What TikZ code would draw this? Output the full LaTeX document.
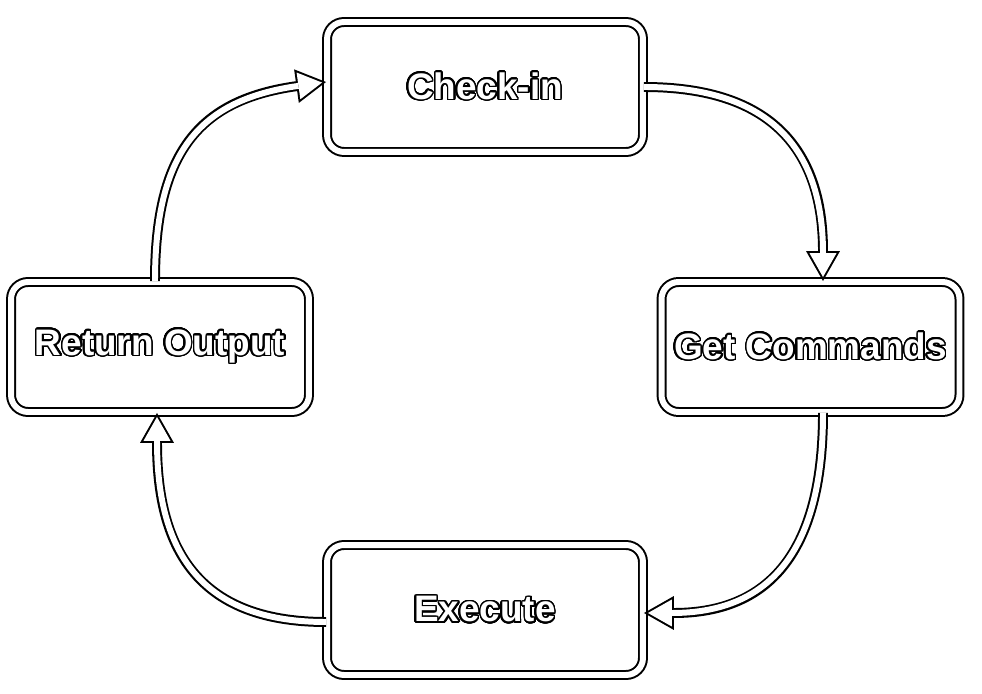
\documentclass[tikz,border=0pt]{standalone}
\usepackage{fontspec}
\setmainfont{Liberation Sans}
\usepackage{contour}
\contourlength{0.9pt}
\contournumber{32}
\usetikzlibrary{arrows.meta}

\begin{document}
\begin{tikzpicture}[x=0.02cm,y=0.02cm,
  stage/.style={draw=black,double=white,double distance=3.4pt,line width=1.13pt,
    rounded corners=0.34cm,minimum height=2.6cm,text=white,
    font=\fontsize{21}{25}\selectfont\bfseries},
  flow/.style={draw=white,line width=3.4pt,shorten >=2.3pt,
    -{Triangle[length=13.55pt,width=15.36pt,line width=0pt]},
    preaction={draw=black,line width=5.67pt,shorten >=0pt,
      -{Triangle[length=17pt,width=19.3pt,line width=0pt]}}},
  looseness=1.25]
\useasboundingbox (0,0) rectangle (982,693);
% the four stages
\node[stage,minimum width=6.32cm] (checkin) at (485,606) {\contour{black}{Check-in}};
\node[stage,minimum width=5.96cm] (getcmd) at (810.5,346) {\contour{black}{Get Commands}};
\node[stage,minimum width=6.32cm] (execute) at (485,83) {\contour{black}{Execute}};
\node[stage,minimum width=5.96cm] (retout) at (160,346) {\contour{black}{Return Output}};
% the loop
\draw[flow] (checkin.east) to[out=0,in=90] ([xshift=0.25cm]getcmd.north);
\draw[flow] ([xshift=0.25cm]getcmd.south) to[out=-90,in=0] ([yshift=-0.06cm]execute.east);
\draw[flow] ([yshift=-0.24cm]execute.west) to[out=180,in=-90] ([xshift=-0.06cm]retout.south);
\draw[flow] ([xshift=-0.1cm]retout.north) to[out=90,in=188] ([yshift=0.1cm]checkin.west);
\end{tikzpicture}
\end{document}
